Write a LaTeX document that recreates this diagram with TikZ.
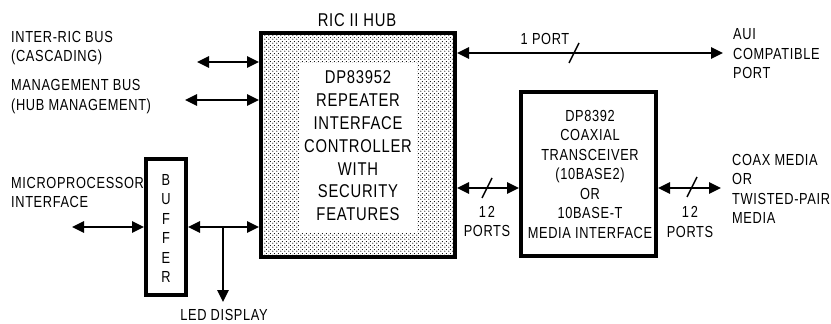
\documentclass[tikz,border=0pt]{standalone}
\usepackage{fontspec}
\setmainfont{Liberation Sans}[FakeStretch=0.8,LetterSpace=4]
\usetikzlibrary{arrows.meta,patterns}
\pgfdeclarepatternformonly{hubdots}{\pgfpointorigin}{\pgfpoint{4pt}{4pt}}{\pgfpoint{4pt}{4pt}}{%
  \pgfpathcircle{\pgfpoint{1pt}{1pt}}{0.7pt}%
  \pgfpathcircle{\pgfpoint{3pt}{3pt}}{0.7pt}%
  \pgfusepath{fill}}
\newcommand\lblfont{\fontsize{16}{19.5}\selectfont}
\newcommand\hubfont{\fontsize{18.5}{22.8}\selectfont}
\begin{document}
\begin{tikzpicture}[x=1pt,y=-1pt,
  box/.style={draw, line width=4pt, inner sep=0pt},
  tipA/.tip={Triangle[length=12pt,width=11pt]},
  biconn/.style={line width=2.5pt, tipA-tipA},
  uniconn/.style={line width=2.5pt, -tipA},
  slashmark/.style={line width=1.5pt},
  lbl/.style={inner sep=0pt, font=\lblfont, align=left},
  clbl/.style={inner sep=0pt, font=\lblfont, align=center}
]
\useasboundingbox (0,0) rectangle (831,324);

% hub
\node[box, pattern=hubdots, minimum width=194pt, minimum height=224pt] (hub) at (358,145) {};
\fill[white] (300,63) rectangle (417,232);
\node[inner sep=0pt, font=\hubfont, align=center] (hubtxt) at (358,146)
  {DP83952\\REPEATER\\INTERFACE\\CONTROLLER\\WITH\\SECURITY\\FEATURES};
\node[inner sep=0pt, font=\hubfont] (hubtitle) at (357,20) {RIC II HUB};

% transceiver
\node[box, fill=white, minimum width=135pt, minimum height=164pt] (trx) at (588.5,174) {};
\node[clbl] (trxtxt) at (590,174)
  {DP8392\\COAXIAL\\TRANSCEIVER\\(10BASE2)\\OR\\10BASE-T\\MEDIA INTERFACE};

% buffer
\node[box, fill=white, minimum width=40pt, minimum height=136pt] (buf) at (166,227) {};
\node[clbl] (buftxt) at (166,228.5) {B\\U\\F\\F\\E\\R};

% left labels
\node[lbl, anchor=west] (l1) at (11,48) {INTER-RIC BUS\\(CASCADING)};
\node[lbl, anchor=west] (l2) at (11,96.5) {MANAGEMENT BUS\\(HUB MANAGEMENT)};
\node[lbl, anchor=west] (l3) at (11,192.5) {MICROPROCESSOR\\INTERFACE};
\node[clbl] (led) at (224,315) {LED DISPLAY};

% right labels
\node[lbl, anchor=west] (aui) at (733,54) {AUI\\COMPATIBLE\\PORT};
\node[lbl, anchor=west] (media) at (732,189) {COAX MEDIA\\OR\\TWISTED-PAIR\\MEDIA};
\node[clbl] (oneport) at (545,39) {1 PORT};
\node[clbl] (p12a) at (487,221.5) {1\kern2pt 2\\PORTS};
\node[clbl] (p12b) at (690,222) {1\kern2pt 2\\PORTS};

% free ends
\coordinate (ricend) at (197,62);
\coordinate (mgmtend) at (185,100);
\coordinate (auiend) at (723,53);
\coordinate (mediaend) at (721,188);
\coordinate (upend) at (72,227);
\coordinate (ledend) at (223,302);
\coordinate (ledjoin) at (223,227);

% connectors
\draw[biconn] (ricend) -- (hub.west |- ricend);
\draw[biconn] (mgmtend) -- (hub.west |- mgmtend);
\draw[biconn] (hub.east |- auiend) -- (auiend);
\draw[biconn] (hub.east |- 0,188) -- (trx.west |- 0,188);
\draw[biconn] (trx.east |- mediaend) -- (mediaend);
\draw[biconn] (buf.east |- 0,227) -- (hub.west |- 0,227);
\draw[biconn] (upend) -- (buf.west |- upend);
\draw[uniconn] (ledjoin) -- (ledend);

% bus width slashes
\draw[slashmark] (569,63) -- (579,43);
\draw[slashmark] (482,198) -- (492,178);
\draw[slashmark] (687,197) -- (697,177);
\end{tikzpicture}
\end{document}
